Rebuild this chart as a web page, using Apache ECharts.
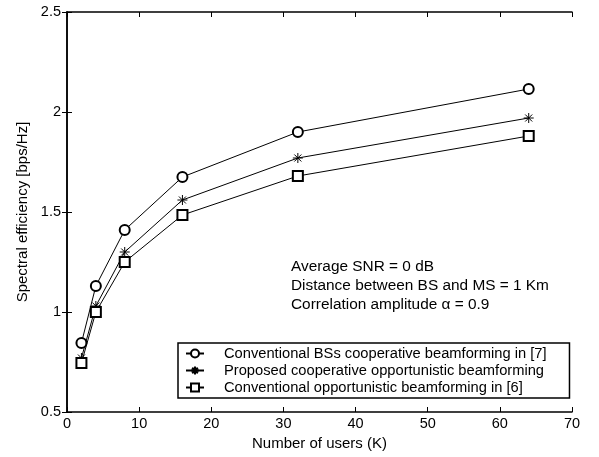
<!DOCTYPE html>
<html>
<head>
<meta charset="utf-8">
<script src="https://cdn.jsdelivr.net/npm/echarts@6/dist/echarts.min.js"></script>
<style>
  html, body { margin: 0; padding: 0; background: #fff; }
  #chart { width: 599px; height: 457px; }
</style>
</head>
<body>
<div id="chart"></div>
<script>
// number of users K
var users = [2, 4, 8, 16, 32, 64];
// spectral efficiency [bps/Hz]
var bsCoop = [0.845, 1.13, 1.41, 1.675, 1.90, 2.115];
var proposed = [0.77, 1.03, 1.30, 1.56, 1.77, 1.97];
var opportunistic = [0.745, 1.0, 1.25, 1.485, 1.68, 1.88];
var xTicks = [0, 10, 20, 30, 40, 50, 60, 70];
var yTicks = [0.5, 1, 1.5, 2, 2.5];
var seriesNames = [
  "Conventional BSs cooperative beamforming in [7]",
  "Proposed cooperative opportunistic beamforming",
  "Conventional opportunistic beamforming in [6]"
];
var notes = [
  "Average SNR = 0 dB",
  "Distance between BS and MS = 1 Km",
  "Correlation amplitude \u03b1 = 0.9"
];

var font = "Liberation Sans, Arial, sans-serif";
var star = "path://M0,-5L0,5M-5,0L5,0M-3.5,-3.5L3.5,3.5M-3.5,3.5L3.5,-3.5";

function pairs(ys) {
  return users.map(function (x, i) { return [x, ys[i]]; });
}

function makeSeries(name, ys, symbol, size) {
  return {
    name: name,
    type: "line",
    data: pairs(ys),
    symbol: symbol,
    symbolSize: size,
    showSymbol: true,
    lineStyle: { color: "#000", width: 1 },
    itemStyle: { color: "#000", borderColor: "#000", borderWidth: 1 },
    emphasis: { disabled: true },
    animation: false,
    z: 3
  };
}

var axisCommon = {
  axisLine: { show: true, lineStyle: { color: "#000", width: 1.5 } },
  axisTick: { show: true, inside: true, length: 5, lineStyle: { color: "#000", width: 1 } },
  splitLine: { show: false }
};

var myChart = echarts.init(document.getElementById("chart"));
myChart.setOption({
  backgroundColor: "#fff",
  textStyle: { fontFamily: font },
  grid: { left: 67, right: 27, top: 12, bottom: 45 },
  legend: {
    orient: "vertical",
    left: 178,
    top: 343,
    data: seriesNames,
    backgroundColor: "#fff",
    borderColor: "#000",
    borderWidth: 1.5,
    borderRadius: 0,
    padding: [3, 23, 3, 7],
    itemWidth: 18,
    itemHeight: 10,
    itemGap: 2,
    textStyle: { fontFamily: font, fontSize: 14.7, color: "#000", padding: [0, 0, 0, 15] },
    selectedMode: false
  },
  graphic: notes.map(function (t, i) {
    return {
      type: "text",
      left: 291,
      top: 259 + i * 19,
      style: { text: t, font: "15.4px " + font, fill: "#000" },
      z: 10
    };
  }),
  xAxis: [
    Object.assign({
      type: "value",
      min: xTicks[0],
      max: xTicks[xTicks.length - 1],
      interval: 10,
      name: "Number of users (K)",
      nameLocation: "middle",
      nameGap: 23,
      nameTextStyle: { fontFamily: font, fontSize: 15, color: "#000" },
      axisLabel: { color: "#000", fontSize: 14.5, fontFamily: font, margin: 4 }
    }, axisCommon),
    Object.assign({
      type: "value",
      position: "top",
      min: xTicks[0],
      max: xTicks[xTicks.length - 1],
      interval: 10,
      axisLabel: { show: false }
    }, axisCommon)
  ],
  yAxis: [
    Object.assign({
      type: "value",
      min: yTicks[0],
      max: yTicks[yTicks.length - 1],
      interval: 0.5,
      name: "Spectral efficiency [bps/Hz]",
      nameLocation: "middle",
      nameGap: 31,
      nameTextStyle: { fontFamily: font, fontSize: 15, color: "#000" },
      axisLabel: { color: "#000", fontSize: 14.5, fontFamily: font, margin: 6 }
    }, axisCommon),
    Object.assign({
      type: "value",
      position: "right",
      min: yTicks[0],
      max: yTicks[yTicks.length - 1],
      interval: 0.5,
      axisLabel: { show: false }
    }, axisCommon)
  ],
  series: [
    makeSeries(seriesNames[0], bsCoop, "emptyCircle", 10),
    makeSeries(seriesNames[1], proposed, star, 10),
    makeSeries(seriesNames[2], opportunistic, "emptyRect", 10)
  ]
});
</script>
</body>
</html>
